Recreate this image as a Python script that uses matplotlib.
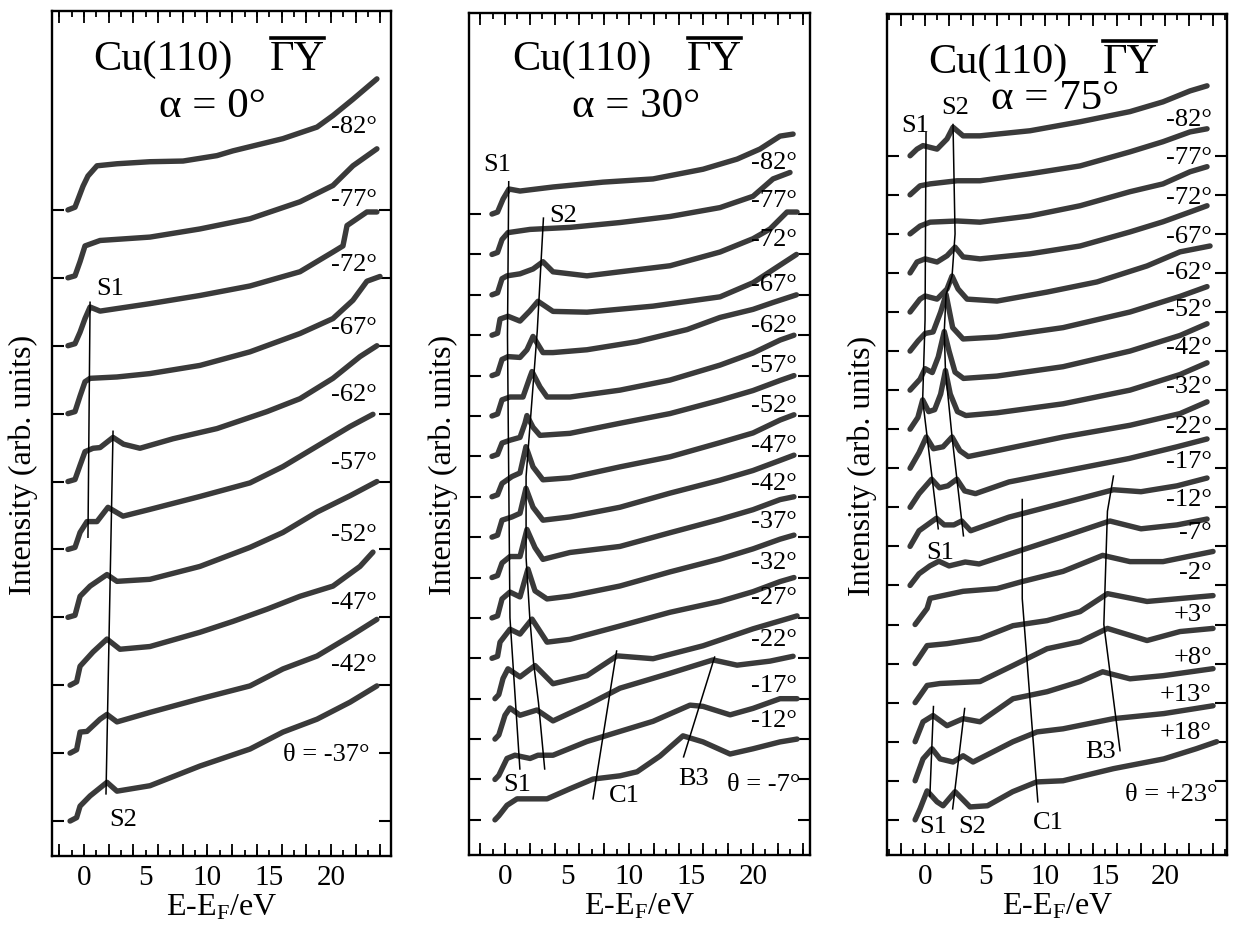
import matplotlib
matplotlib.use("Agg")
import matplotlib.pyplot as plt
from matplotlib.ticker import MultipleLocator, FuncFormatter
from matplotlib.lines import Line2D

plt.rcParams['font.family'] = ['Liberation Serif', 'DejaVu Serif']
plt.rcParams['mathtext.fontset'] = 'custom'
plt.rcParams['mathtext.rm'] = 'Liberation Serif'
plt.rcParams['mathtext.it'] = 'Liberation Serif:italic'

INK = '#3a3a3a'

# ------------------------------------------------------------------
# alpha = 0 deg : spectra, energies (eV) and intensity above baseline
# ------------------------------------------------------------------
a0_angles = [-82, -77, -72, -67, -62, -57, -52, -47, -42, -37]

a0_e_m82 = [-1.3, -0.73, -0.08, 0.32, 1.05, 2.67, 5.34, 8.02, 10.77, 12.06, 16.11, 18.87, 20.16, 21.78, 23.72]
a0_i_m82 = [0.0, 0.04, 0.35, 0.5, 0.65, 0.68, 0.71, 0.72, 0.8, 0.87, 1.05, 1.22, 1.39, 1.63, 1.93]
a0_e_m77 = [-1.3, -0.73, -0.32, 0.08, 1.3, 5.34, 9.39, 13.44, 17.49, 20.16, 21.78, 23.72]
a0_i_m77 = [0.0, 0.03, 0.24, 0.47, 0.55, 0.6, 0.72, 0.87, 1.12, 1.36, 1.65, 1.9]
a0_e_m72 = [-1.3, -0.73, -0.32, 0.08, 0.49, 1.3, 5.34, 9.39, 13.44, 17.49, 20.16, 20.97, 21.3, 22.91, 23.72]
a0_i_m72 = [0.0, 0.03, 0.2, 0.4, 0.57, 0.51, 0.62, 0.74, 0.88, 1.09, 1.38, 1.47, 1.77, 1.97, 1.97]
a0_e_m67 = [-1.3, -0.73, -0.32, 0.08, 0.49, 2.67, 5.34, 9.39, 13.44, 17.49, 20.16, 21.78, 22.91, 23.97]
a0_i_m67 = [0.0, 0.03, 0.26, 0.47, 0.52, 0.54, 0.59, 0.71, 0.91, 1.18, 1.4, 1.67, 1.95, 2.02]
a0_e_m62 = [-1.3, -0.73, -0.32, 0.08, 0.73, 1.3, 2.35, 3.2, 4.53, 7.21, 10.77, 14.82, 17.49, 20.16, 22.35, 23.72]
a0_i_m62 = [0.0, 0.03, 0.24, 0.44, 0.49, 0.5, 0.65, 0.55, 0.49, 0.63, 0.78, 1.03, 1.22, 1.52, 1.84, 2.0]
a0_e_m57 = [-1.3, -0.73, -0.32, 0.24, 1.05, 1.94, 3.16, 5.34, 9.39, 13.44, 16.11, 18.87, 21.54, 23.4]
a0_i_m57 = [0.0, 0.03, 0.25, 0.41, 0.41, 0.62, 0.49, 0.59, 0.78, 0.98, 1.22, 1.52, 1.81, 1.99]
a0_e_m52 = [-1.3, -0.73, -0.32, 0.49, 1.86, 2.67, 5.34, 9.39, 13.44, 16.11, 18.87, 21.54, 23.72]
a0_i_m52 = [0.0, 0.03, 0.31, 0.46, 0.63, 0.53, 0.56, 0.75, 1.03, 1.25, 1.55, 1.79, 2.0]
a0_e_m47 = [-1.13, -0.6, -0.32, 0.73, 1.86, 2.91, 5.34, 9.39, 12.06, 14.82, 17.49, 20.16, 22.35, 23.4]
a0_i_m47 = [0.0, 0.05, 0.28, 0.49, 0.68, 0.53, 0.57, 0.78, 0.94, 1.12, 1.31, 1.46, 1.75, 1.96]
a0_e_m42 = [-1.13, -0.6, -0.32, 0.24, 1.3, 1.86, 2.67, 5.34, 9.39, 13.44, 16.11, 18.87, 21.54, 23.72]
a0_i_m42 = [0.0, 0.05, 0.31, 0.32, 0.5, 0.57, 0.46, 0.6, 0.8, 0.99, 1.24, 1.43, 1.72, 1.97]
a0_e_m37 = [-1.13, -0.6, -0.32, 0.49, 1.86, 2.67, 5.34, 9.39, 13.44, 16.11, 18.87, 21.54, 23.72]
a0_i_m37 = [0.0, 0.05, 0.22, 0.37, 0.57, 0.44, 0.52, 0.81, 1.06, 1.31, 1.5, 1.75, 1.99]

a0_label_y = [10.24, 9.16, 8.2, 7.27, 6.29, 5.29, 4.23, 3.23, 2.31, 0.99]
a0_s1_e, a0_s1_y = [0.49, 0.32], [7.64, 4.18]
a0_s2_e, a0_s2_y = [2.35, 1.78], [5.74, 0.4]

# ------------------------------------------------------------------
# alpha = 30 deg
# ------------------------------------------------------------------
a30_angles = [-82, -77, -72, -67, -62, -57, -52, -47, -42, -37, -32, -27, -22, -17, -12, -7]

a30_e_m82 = [-1.05, -0.6, -0.16, 0.32, 1.21, 3.87, 7.9, 11.94, 15.97, 18.71, 20.56, 22.18, 23.23]
a30_i_m82 = [0.0, 0.05, 0.37, 0.62, 0.57, 0.67, 0.79, 0.87, 1.11, 1.36, 1.61, 1.93, 1.98]
a30_e_m77 = [-1.05, -0.6, -0.24, 0.24, 2.02, 5.24, 9.27, 13.31, 17.34, 20.0, 21.61, 22.98]
a30_i_m77 = [0.0, 0.05, 0.37, 0.54, 0.62, 0.67, 0.79, 0.94, 1.16, 1.44, 1.87, 2.03]
a30_e_m72 = [-1.05, -0.6, -0.24, 0.16, 1.21, 2.26, 3.06, 3.87, 6.61, 9.27, 13.31, 17.34, 20.0, 21.37, 22.74, 23.55]
a30_i_m72 = [0.0, 0.05, 0.4, 0.47, 0.52, 0.64, 0.82, 0.57, 0.47, 0.57, 0.72, 1.06, 1.39, 1.63, 2.05, 2.05]
a30_e_m67 = [-1.05, -0.6, -0.4, 0.24, 1.21, 2.0, 2.66, 3.87, 6.61, 11.94, 17.34, 20.0, 22.0, 23.5]
a30_i_m67 = [0.0, 0.05, 0.4, 0.47, 0.35, 0.6, 0.84, 0.59, 0.57, 0.72, 0.95, 1.3, 1.7, 2.0]
a30_e_m62 = [-1.05, -0.6, -0.24, 0.24, 1.21, 1.77, 2.26, 3.06, 3.87, 6.61, 10.65, 14.68, 17.34, 20.0, 21.61, 23.5]
a30_i_m62 = [0.0, 0.05, 0.4, 0.47, 0.45, 0.64, 0.97, 0.57, 0.57, 0.64, 0.84, 1.14, 1.44, 1.64, 1.81, 2.0]
a30_e_m57 = [-1.05, -0.6, -0.24, 0.4, 1.45, 2.02, 2.18, 2.82, 3.39, 5.24, 9.27, 13.31, 17.34, 20.0, 22.18, 23.3]
a30_i_m57 = [0.0, 0.05, 0.4, 0.47, 0.47, 0.97, 1.1, 0.72, 0.47, 0.47, 0.64, 0.89, 1.26, 1.56, 1.88, 2.0]
a30_e_m52 = [-1.05, -0.6, -0.24, 0.4, 1.21, 1.61, 1.77, 2.26, 2.82, 5.24, 9.27, 13.31, 17.34, 20.0, 22.18, 23.3]
a30_i_m52 = [0.0, 0.05, 0.33, 0.4, 0.47, 0.82, 1.01, 0.72, 0.52, 0.57, 0.82, 1.06, 1.39, 1.63, 1.88, 2.0]
a30_e_m47 = [-1.05, -0.6, -0.24, 0.56, 1.21, 1.69, 2.26, 3.06, 5.24, 9.27, 13.31, 17.34, 20.0, 22.18, 23.3]
a30_i_m47 = [0.0, 0.05, 0.33, 0.5, 0.59, 1.24, 0.74, 0.42, 0.47, 0.74, 0.99, 1.34, 1.58, 1.9, 2.03]
a30_e_m42 = [-1.05, -0.6, -0.24, 0.56, 1.21, 1.69, 2.26, 3.06, 5.24, 9.27, 13.31, 17.34, 20.0, 22.18, 23.3]
a30_i_m42 = [0.0, 0.05, 0.42, 0.5, 0.59, 1.21, 0.74, 0.42, 0.5, 0.74, 1.09, 1.41, 1.65, 1.9, 2.03]
a30_e_m37 = [-1.05, -0.6, -0.24, 0.4, 1.21, 1.77, 2.42, 3.06, 5.24, 9.27, 13.31, 17.34, 20.0, 22.18, 23.3]
a30_i_m37 = [0.0, 0.05, 0.36, 0.52, 0.52, 1.19, 0.74, 0.45, 0.62, 0.77, 1.11, 1.44, 1.68, 1.93, 2.0]
a30_e_m32 = [-1.05, -0.6, -0.24, 0.4, 1.21, 1.85, 2.42, 3.39, 5.24, 9.27, 13.31, 17.34, 20.0, 22.18, 23.3]
a30_i_m32 = [0.0, 0.05, 0.47, 0.64, 0.52, 1.21, 0.67, 0.47, 0.54, 0.79, 1.14, 1.46, 1.71, 1.95, 2.05]
a30_e_m27 = [-1.05, -0.6, -0.4, 0.4, 1.21, 2.18, 3.39, 5.24, 9.27, 13.31, 17.34, 20.0, 22.18, 23.3]
a30_i_m27 = [0.0, 0.05, 0.4, 0.72, 0.6, 0.97, 0.4, 0.47, 0.8, 1.14, 1.41, 1.65, 1.9, 2.0]
a30_e_m22 = [-0.81, -0.5, -0.16, 0.24, 1.21, 2.42, 3.87, 6.61, 9.03, 11.94, 15.97, 20.0, 23.55]
a30_i_m22 = [0.0, 0.1, 0.5, 0.74, 0.54, 0.82, 0.37, 0.57, 1.06, 0.99, 1.31, 1.73, 2.05]
a30_e_m17 = [-0.81, -0.5, 0.0, 0.4, 1.21, 2.58, 3.87, 6.61, 9.27, 13.31, 16.77, 18.71, 21.37, 23.23]
a30_i_m17 = [0.0, 0.1, 0.59, 0.77, 0.59, 0.72, 0.45, 0.84, 1.26, 1.63, 1.96, 1.83, 1.93, 2.05]
a30_e_m12 = [-0.81, -0.5, 0.16, 0.8, 2.02, 2.66, 3.87, 6.61, 9.27, 11.94, 14.92, 15.97, 18.15, 20.0, 22.18, 23.55]
a30_i_m12 = [0.0, 0.1, 0.52, 0.6, 0.52, 0.6, 0.6, 0.94, 1.19, 1.44, 1.84, 1.81, 1.6, 1.76, 2.0, 2.0]
a30_e_m7 = [-0.81, -0.5, 0.16, 0.97, 3.39, 5.24, 7.1, 9.27, 10.65, 12.5, 14.35, 15.97, 18.15, 20.0, 22.18, 23.55]
a30_i_m7 = [0.0, 0.1, 0.36, 0.52, 0.52, 0.77, 1.01, 1.09, 1.19, 1.58, 2.08, 1.93, 1.63, 1.76, 1.93, 2.0]

a30_label_y = [16.3, 15.36, 14.38, 13.26, 12.26, 11.26, 10.27, 9.29, 8.34, 7.39, 6.39, 5.53, 4.49, 3.34, 2.46, 0.89]
a30_s1_e, a30_s1_y = [0.3, 0.2, 0.4, 1.2], [15.8, 12.0, 5.0, 1.26]
a30_s2_e, a30_s2_y = [3.1, 2.6, 2.2, 1.7, 1.7, 2.0, 2.3, 2.7, 3.2], [14.9, 12.1, 10.5, 8.5, 6.5, 5.0, 3.9, 2.9, 1.26]
a30_c1_e, a30_c1_y = [9.0, 7.1], [4.18, 0.52]
a30_b3_e, a30_b3_y = [16.9, 14.4], [4.03, 1.56]

# ------------------------------------------------------------------
# alpha = 75 deg
# ------------------------------------------------------------------
a75_angles = [-82, -77, -72, -67, -62, -52, -42, -32, -22, -17, -12, -7, -2, 3, 8, 13, 18, 23]

a75_e_m82 = [-1.25, -0.67, -0.17, 1.0, 1.83, 2.33, 3.17, 4.58, 8.75, 12.92, 17.08, 19.83, 22.08, 23.5]
a75_i_m82 = [0.0, 0.17, 0.26, 0.17, 0.43, 0.73, 0.51, 0.51, 0.64, 0.87, 1.13, 1.38, 1.66, 1.79]
a75_e_m77 = [-1.25, -0.42, 0.42, 2.67, 4.58, 8.75, 12.92, 17.08, 19.83, 22.08, 23.5]
a75_i_m77 = [0.0, 0.23, 0.28, 0.36, 0.36, 0.54, 0.74, 1.1, 1.36, 1.61, 1.69]
a75_e_m72 = [-1.25, -0.42, 0.42, 2.67, 4.58, 8.75, 12.92, 17.08, 19.83, 22.08, 23.5]
a75_i_m72 = [0.0, 0.2, 0.3, 0.33, 0.3, 0.46, 0.72, 1.08, 1.28, 1.59, 1.72]
a75_e_m67 = [-1.25, -0.67, 0.0, 1.0, 1.83, 2.5, 3.17, 4.58, 8.75, 12.92, 17.08, 19.83, 22.08, 23.5]
a75_i_m67 = [0.0, 0.28, 0.36, 0.28, 0.44, 0.66, 0.41, 0.36, 0.49, 0.69, 1.05, 1.31, 1.56, 1.72]
a75_e_m62 = [-1.25, -0.42, 0.0, 1.0, 1.83, 2.25, 2.75, 3.5, 6.0, 10.17, 14.33, 18.5, 21.25, 23.75]
a75_i_m62 = [0.0, 0.33, 0.41, 0.33, 0.59, 0.92, 0.59, 0.33, 0.28, 0.51, 0.77, 1.18, 1.54, 1.69]
a75_e_m52 = [-1.25, -0.58, 0.0, 0.67, 1.3, 1.75, 2.3, 3.17, 6.0, 11.5, 17.08, 21.25, 23.5]
a75_i_m52 = [0.0, 0.26, 0.45, 0.49, 1.0, 1.45, 0.6, 0.31, 0.36, 0.6, 1.0, 1.4, 1.65]
a75_e_m42 = [-1.25, -0.42, 0.0, 0.6, 1.1, 1.6, 2.0, 2.5, 3.2, 6.0, 11.5, 17.08, 21.25, 23.5]
a75_i_m42 = [0.0, 0.28, 0.55, 0.45, 0.85, 1.5, 1.0, 0.46, 0.3, 0.36, 0.6, 1.0, 1.4, 1.7]
a75_e_m32 = [-1.25, -0.6, -0.2, 0.3, 0.8, 1.3, 1.7, 2.1, 2.7, 3.4, 6.0, 11.5, 17.08, 21.25, 23.5]
a75_i_m32 = [0.0, 0.3, 0.75, 0.45, 0.5, 0.9, 1.5, 0.9, 0.45, 0.35, 0.42, 0.65, 1.0, 1.4, 1.7]
a75_e_m22 = [-1.25, -0.5, 0.1, 0.7, 1.5, 2.25, 2.9, 3.6, 6.0, 11.5, 17.08, 21.25, 23.5]
a75_i_m22 = [0.0, 0.4, 0.8, 0.5, 0.55, 0.8, 0.45, 0.3, 0.45, 0.8, 1.1, 1.4, 1.7]
a75_e_m17 = [-1.25, -0.5, 0.55, 1.2, 1.9, 2.65, 3.3, 4.2, 7.0, 12.0, 17.0, 21.0, 23.5]
a75_i_m17 = [0.0, 0.35, 0.72, 0.5, 0.55, 0.72, 0.42, 0.35, 0.65, 0.95, 1.25, 1.55, 1.75]
a75_e_m12 = [-1.25, -0.5, 0.95, 1.6, 2.4, 3.05, 3.8, 7.0, 12.0, 15.7, 18.0, 21.0, 23.5]
a75_i_m12 = [0.0, 0.4, 0.72, 0.55, 0.55, 0.65, 0.4, 0.75, 1.15, 1.45, 1.4, 1.55, 1.75]
a75_e_m7 = [-1.25, -0.5, 0.4, 1.15, 2.0, 3.35, 4.5, 8.0, 12.0, 15.4, 18.0, 21.0, 23.5]
a75_i_m7 = [0.0, 0.3, 0.5, 0.62, 0.5, 0.6, 0.55, 0.9, 1.3, 1.65, 1.45, 1.55, 1.7]
a75_e_m2 = [-0.83, 0.17, 0.42, 3.17, 6.0, 8.1, 11.5, 14.8, 17.08, 19.83, 24.0]
a75_i_m2 = [0.0, 0.41, 0.67, 0.85, 0.92, 1.1, 1.36, 1.77, 1.61, 1.61, 1.87]
a75_e_p3 = [-0.83, 0.17, 1.83, 4.58, 7.33, 10.17, 12.92, 15.2, 18.5, 24.0]
a75_i_p3 = [0.0, 0.46, 0.51, 0.64, 0.97, 1.1, 1.33, 1.79, 1.59, 1.74]
a75_e_p8 = [-0.83, 0.17, 1.25, 4.58, 7.33, 10.17, 12.92, 15.2, 18.5, 21.25, 24.0]
a75_i_p8 = [0.0, 0.44, 0.49, 0.54, 0.95, 1.38, 1.56, 1.9, 1.59, 1.82, 1.9]
a75_e_p13 = [-0.83, -0.17, 0.67, 1.83, 3.17, 4.58, 7.33, 10.17, 12.92, 14.8, 17.08, 19.83, 24.0]
a75_i_p13 = [0.0, 0.51, 0.67, 0.41, 0.59, 0.51, 1.1, 1.28, 1.54, 1.79, 1.61, 1.69, 1.87]
a75_e_p18 = [-0.83, -0.17, 0.58, 1.25, 2.33, 3.17, 4.0, 7.33, 9.33, 11.5, 15.7, 19.9, 24.0]
a75_i_p18 = [0.0, 0.56, 0.82, 0.56, 0.48, 0.64, 0.48, 1.0, 1.25, 1.33, 1.59, 1.72, 1.92]
a75_e_p23 = [-0.83, -0.42, 0.17, 1.0, 1.5, 2.5, 3.75, 5.2, 7.3, 9.3, 11.5, 15.7, 19.9, 22.6, 24.3]
a75_i_p23 = [0.0, 0.28, 0.74, 0.46, 0.36, 0.72, 0.33, 0.36, 0.72, 0.97, 1.0, 1.31, 1.56, 1.82, 2.0]

a75_label_y = [17.95, 16.97, 15.95, 14.95, 14.03, 13.08, 12.11, 11.11, 10.09, 9.19, 8.22, 7.37, 6.35, 5.27, 4.17, 3.23, 2.25, 0.67]
a75_s1_e, a75_s1_y = [0.08, 0.0, -0.2, 1.1], [17.6, 12.8, 10.75, 7.45]
a75_s2_e, a75_s2_y = [2.33, 2.5, 2.25, 1.75, 1.6, 1.7, 2.25, 3.2], [17.8, 15.0, 13.92, 13.45, 12.5, 11.5, 9.8, 7.27]
a75_c1_e, a75_c1_y = [8.1, 8.1, 9.4], [8.2, 5.66, 0.46]
a75_b3_e, a75_b3_y = [15.7, 15.2, 14.9, 16.25], [8.8, 7.9, 5.0, 1.77]
a75_s1c_e, a75_s1c_y = [0.7, 0.4], [2.9, 0.6]
a75_s2c_e, a75_s2c_y = [3.3, 2.3], [2.85, 0.28]

# ------------------------------------------------------------------
a0_spectra = [(a0_e_m82, a0_i_m82), (a0_e_m77, a0_i_m77), (a0_e_m72, a0_i_m72),
              (a0_e_m67, a0_i_m67), (a0_e_m62, a0_i_m62), (a0_e_m57, a0_i_m57),
              (a0_e_m52, a0_i_m52), (a0_e_m47, a0_i_m47), (a0_e_m42, a0_i_m42),
              (a0_e_m37, a0_i_m37)]
a30_spectra = [(a30_e_m82, a30_i_m82), (a30_e_m77, a30_i_m77), (a30_e_m72, a30_i_m72),
               (a30_e_m67, a30_i_m67), (a30_e_m62, a30_i_m62), (a30_e_m57, a30_i_m57),
               (a30_e_m52, a30_i_m52), (a30_e_m47, a30_i_m47), (a30_e_m42, a30_i_m42),
               (a30_e_m37, a30_i_m37), (a30_e_m32, a30_i_m32), (a30_e_m27, a30_i_m27),
               (a30_e_m22, a30_i_m22), (a30_e_m17, a30_i_m17), (a30_e_m12, a30_i_m12),
               (a30_e_m7, a30_i_m7)]
a75_spectra = [(a75_e_m82, a75_i_m82), (a75_e_m77, a75_i_m77), (a75_e_m72, a75_i_m72),
               (a75_e_m67, a75_i_m67), (a75_e_m62, a75_i_m62), (a75_e_m52, a75_i_m52),
               (a75_e_m42, a75_i_m42), (a75_e_m32, a75_i_m32), (a75_e_m22, a75_i_m22),
               (a75_e_m17, a75_i_m17), (a75_e_m12, a75_i_m12), (a75_e_m7, a75_i_m7),
               (a75_e_m2, a75_i_m2), (a75_e_p3, a75_i_p3), (a75_e_p8, a75_i_p8),
               (a75_e_p13, a75_i_p13), (a75_e_p18, a75_i_p18), (a75_e_p23, a75_i_p23)]


def angle_text(a, last):
    s = f"{a:+d}°" if a > 0 else f"{a}°"
    return f"θ = {s}" if last else s


def energy_label(v, pos):
    r = round(v)
    if abs(v - r) < 1e-6 and r % 5 == 0 and 0 <= r <= 20:
        return f"{int(r)}"
    return ""


def setup_axes(ax, xlim, ylim, n):
    ax.set_xlim(*xlim)
    ax.set_ylim(*ylim)
    for sp in ax.spines.values():
        sp.set_linewidth(1.7)
    ax.set_yticks(range(n))
    ax.tick_params(axis='y', which='major', direction='in', length=8.5, width=1.5,
                   left=True, right=True, labelleft=False)
    ax.xaxis.set_major_locator(MultipleLocator(1))
    ax.xaxis.set_minor_locator(MultipleLocator(2))
    ax.xaxis.remove_overlapping_locs = False
    ax.xaxis.set_major_formatter(FuncFormatter(energy_label))
    ax.tick_params(axis='x', which='major', direction='in', length=4, width=1.3,
                   top=True, bottom=True, labelsize=21, pad=6)
    ax.tick_params(axis='x', which='minor', direction='in', length=8.5, width=1.3,
                   top=True, bottom=True)
    ax.set_xlabel('E-E$_\\mathrm{F}$/eV', fontsize=23)
    ax.xaxis.set_label_coords(0.5, -0.043)
    ax.set_ylabel('Intensity (arb. units)', fontsize=23)


def draw_spectra(ax, spectra, angles, label_y, label_x, last_x):
    n = len(spectra)
    for i, (e, inten) in enumerate(spectra):
        base = n - 1 - i
        ax.plot(e, [base + v for v in inten], color=INK, lw=3.9,
                solid_capstyle='round', solid_joinstyle='round', zorder=3)
        last = i == n - 1
        ax.text(last_x if last else label_x, label_y[i], angle_text(angles[i], last),
                ha='right', va='center', fontsize=19, zorder=4)


def guide(ax, e, y):
    ax.plot(e, y, color='black', lw=1.1, zorder=5)


def lab(ax, x, y, s):
    ax.text(x, y, s, ha='center', va='center', fontsize=19, zorder=6)


fig = plt.figure(figsize=(12.33, 9.29), dpi=100)
ax0 = fig.add_axes([0.0418, 0.0775, 0.2753, 0.9096])
ax1 = fig.add_axes([0.3804, 0.0786, 0.2766, 0.9064])
ax2 = fig.add_axes([0.7194, 0.0786, 0.2758, 0.9053])

setup_axes(ax0, (-2.63, 24.86), (-0.515, 11.93), len(a0_angles))
setup_axes(ax1, (-2.9, 24.6), (-0.87, 19.98), len(a30_angles))
setup_axes(ax2, (-3.17, 25.17), (-0.9, 20.63), len(a75_angles))
ax0.yaxis.set_label_coords(-0.04, 0.464)
ax1.yaxis.set_label_coords(-0.032, 0.464)
ax2.yaxis.set_label_coords(-0.029, 0.464)

draw_spectra(ax0, a0_spectra, a0_angles, a0_label_y, 23.7, 23.16)
draw_spectra(ax1, a30_spectra, a30_angles, a30_label_y, 23.55, 23.8)
draw_spectra(ax2, a75_spectra, a75_angles, a75_label_y, 23.9, 24.4)

# guide lines marking the dispersing features
guide(ax0, a0_s1_e, a0_s1_y)
guide(ax0, a0_s2_e, a0_s2_y)
lab(ax0, 2.1, 7.85, 'S1')
lab(ax0, 3.16, 0.03, 'S2')

guide(ax1, a30_s1_e, a30_s1_y)
guide(ax1, a30_s2_e, a30_s2_y)
guide(ax1, a30_c1_e, a30_c1_y)
guide(ax1, a30_b3_e, a30_b3_y)
lab(ax1, -0.65, 16.24, 'S1')
lab(ax1, 4.7, 14.98, 'S2')
lab(ax1, 0.97, 0.89, 'S1')
lab(ax1, 9.6, 0.62, 'C1')
lab(ax1, 15.2, 1.03, 'B3')

for e, y in [(a75_s1_e, a75_s1_y), (a75_s2_e, a75_s2_y), (a75_c1_e, a75_c1_y),
             (a75_b3_e, a75_b3_y), (a75_s1c_e, a75_s1c_y), (a75_s2c_e, a75_s2c_y)]:
    guide(ax2, e, y)
lab(ax2, -0.8, 17.8, 'S1')
lab(ax2, 2.5, 18.25, 'S2')
lab(ax2, 1.25, 6.86, 'S1')
lab(ax2, 0.7, -0.15, 'S1')
lab(ax2, 3.9, -0.15, 'S2')
lab(ax2, 10.3, -0.05, 'C1')
lab(ax2, 14.6, 1.77, 'B3')

# panel headings
gy_texts = []
for ax, cu_x, gy_x, ty, al_x, al_y, alpha in [
        (ax0, 0.122, 0.644, 0.943, 0.473, 0.888, '0'),
        (ax1, 0.126, 0.639, 0.945, 0.49, 0.89, '30'),
        (ax2, 0.12, 0.633, 0.943, 0.493, 0.90, '75')]:
    ax.text(cu_x, ty, 'Cu(110)', transform=ax.transAxes, ha='left', va='center', fontsize=30.5)
    gy_texts.append(ax.text(gy_x, ty, 'ΓY', transform=ax.transAxes, ha='left', va='center',
                            fontsize=30.5))
    ax.text(al_x, al_y, f'α = {alpha}°', transform=ax.transAxes, ha='center', va='center',
            fontsize=31)

fig.canvas.draw()
W, H = fig.get_size_inches() * fig.dpi
for t in gy_texts:
    bb = t.get_window_extent()
    y = (bb.y1 + 2) / H
    fig.add_artist(Line2D([(bb.x0 + 1) / W, (bb.x1 - 1) / W], [y, y], color='black', lw=2.6))

fig.savefig('out.png', dpi=100, facecolor='white')
